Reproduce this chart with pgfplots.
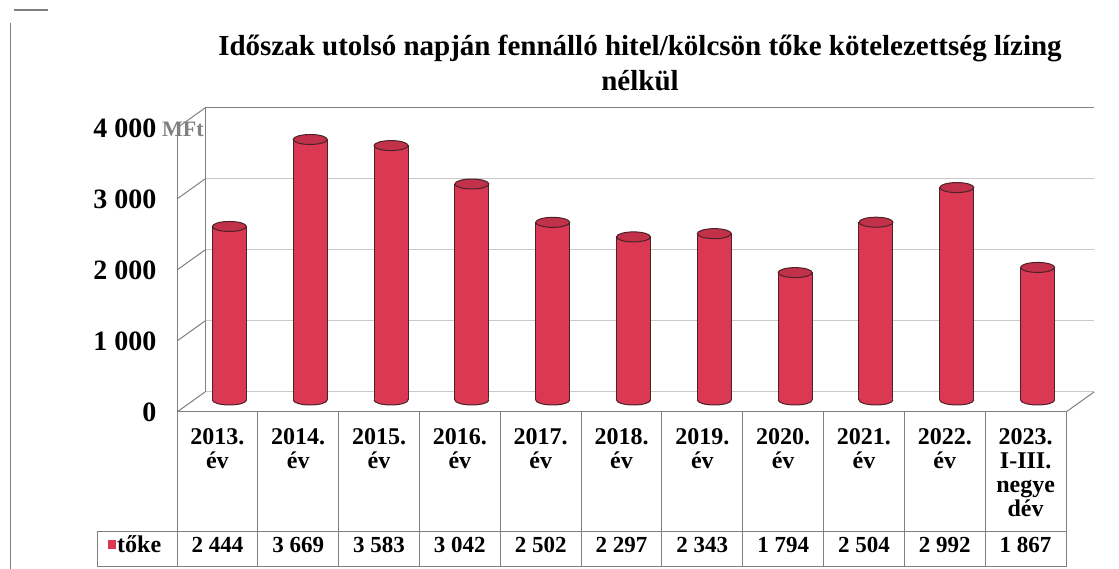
\documentclass[border=0pt]{standalone}
\usepackage{fontspec}
\setmainfont{Liberation Serif}
\usepackage{pgfplots}
\pgfplotsset{compat=1.18}
\usepackage{pgfplotstable}

\definecolor{barred}{HTML}{DB3853}
\definecolor{barlight}{HTML}{E65A72}
\definecolor{edge}{HTML}{4A2228}
\definecolor{gridc}{HTML}{C8C8C8}
\definecolor{wallc}{HTML}{808080}

\pgfdeclareplotmark{cyltop}{%
  \pgfpathellipse{\pgfpointorigin}{\pgfqpoint{17bp}{0pt}}{\pgfqpoint{0pt}{5bp}}%
  \pgfusepathqfillstroke}
\pgfdeclareplotmark{cylbot}{%
  \pgfpathrectangle{\pgfqpoint{-16.4bp}{-0.5bp}}{\pgfqpoint{32.8bp}{2.5bp}}%
  \pgfpathmoveto{\pgfqpoint{-17bp}{0pt}}%
  \pgfpatharc{180}{360}{17bp and 5bp}%
  \pgfpathclose
  \pgfusepathqfill
  \pgfpathmoveto{\pgfqpoint{-17bp}{0pt}}%
  \pgfpatharc{180}{360}{17bp and 5bp}%
  \pgfusepathqstroke}

\pgfplotstableread{
x val
0 2444
1 3669
2 3583
3 3042
4 2502
5 2297
6 2343
7 1794
8 2504
9 2992
10 1867
}\data

\begin{document}
\begin{tikzpicture}[x=1bp,y=1bp]
\useasboundingbox (0,0) rectangle (1119,569);
% outer chart frame remnants
\draw[wallc, line width=1bp] (10,0) -- (10,546);
\draw[gray, line width=1.2bp] (14,559) -- (48,559);
% title
\node[font=\bfseries\fontsize{29bp}{35bp}\selectfont, align=center] at (640,506)
  {Időszak utolsó napján fennálló hitel/kölcsön tőke kötelezettség lízing\\nélkül};
% back wall gridlines
\foreach \k in {1,2,3} {
  \draw[gridc, line width=1bp] (205,{177+71*\k}) -- (1094,{177+71*\k});
}
\draw[wallc, line width=1bp] (205,461) -- (1094,461);
\draw[gridc, line width=1bp] (205,177) -- (1094,177);
% left wall
\draw[wallc, line width=1bp] (205,177) -- (205,461);
\draw[wallc, line width=1bp] (177,157) -- (177,441);
\foreach \k in {0,1,2,3,4} {
  \draw[wallc, line width=1bp] (177,{157+71*\k}) -- (205,{177+71*\k});
}
% floor
\draw[wallc, line width=1bp] (1066,157) -- (1094,177);
% table grid
\draw[wallc, line width=1bp] (177,157) -- (1066,157);
\foreach \k in {0,...,11} {
  \draw[wallc, line width=1bp] ({177+80.818*\k},157) -- ({177+80.818*\k},2);
}
\draw[wallc, line width=1bp] (97,37) -- (1066,37);
\draw[wallc, line width=1bp] (97,2) -- (1066,2);
\draw[wallc, line width=1bp] (97,37) -- (97,2);
% row header
\fill[barred] (108,20) rectangle (116,29);
\node[anchor=west, inner sep=0pt, font=\bfseries\fontsize{24bp}{25bp}\selectfont] at (117,25) {tőke};
% MFt unit
\node[anchor=west, inner sep=0pt, text=gray, font=\bfseries\fontsize{22bp}{24bp}\selectfont] at (162,440) {MFt};

\begin{axis}[
  at={(177bp,157bp)}, anchor=south west,
  scale only axis, width=889bp, height=284bp,
  xmin=-0.5, xmax=10.5, ymin=0, ymax=4000,
  clip=false,
  axis line style={draw=none},
  major tick length=0pt,
  ytick={0,1000,2000,3000,4000},
  /pgf/number format/.cd, assume math mode=true, 1000 sep={\ },
  /pgfplots/.cd,
  yticklabel style={font=\bfseries\fontsize{28bp}{30bp}\selectfont, xshift=-17bp},
  xtick={0,...,10},
  xticklabels={{2013.\\év},{2014.\\év},{2015.\\év},{2016.\\év},{2017.\\év},{2018.\\év},{2019.\\év},{2020.\\év},{2021.\\év},{2022.\\év},{2023.\\I-III.\\negye\\dév}},
  xticklabel style={font=\bfseries\fontsize{24bp}{24bp}\selectfont, align=center, anchor=north, inner sep=0pt, yshift=-16bp},
  extra x ticks={0,...,10},
  extra x tick labels={2 444,3 669,3 583,3 042,2 502,2 297,2 343,1 794,2 504,2 992,1 867},
  extra x tick style={xticklabel style={font=\bfseries\fontsize{23bp}{25bp}\selectfont, anchor=center, yshift=-117bp}},
]
\addplot[ybar, bar width=34bp, bar shift=0pt, draw=edge, line width=1bp, fill=barred, xshift=12bp, yshift=12bp] table[x=x, y=val] {\data};
\addplot[only marks, mark=cylbot, mark options={fill=barred, draw=edge, line width=1bp}, xshift=12bp, yshift=12bp, forget plot] table[x=x, y expr=0] {\data};
\addplot[only marks, mark=cyltop, mark options={fill=barred!88!black, draw=edge, line width=1bp}, xshift=12bp, yshift=12bp, forget plot] table[x=x, y=val] {\data};
\end{axis}
\end{tikzpicture}
\end{document}
